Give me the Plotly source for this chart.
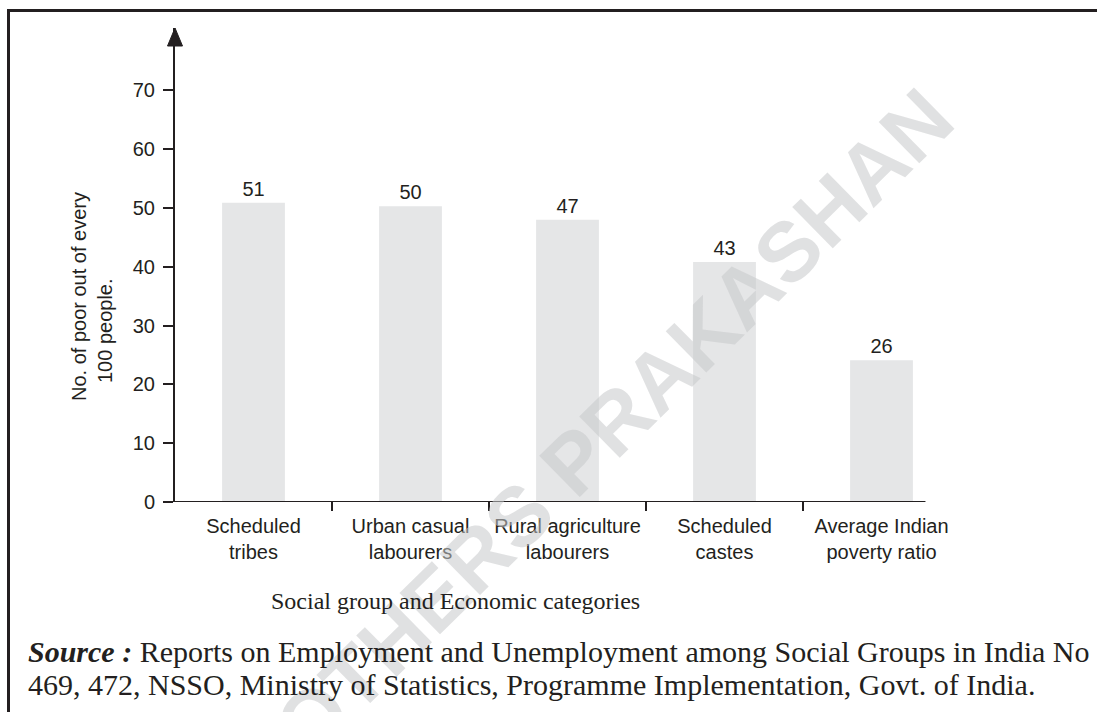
import plotly.graph_objects as go

# ---- data ----
categories = ["Scheduled<br>tribes", "Urban casual<br>labourers", "Rural agriculture<br>labourers",
              "Scheduled<br>castes", "Average Indian<br>poverty ratio"]
bar_heights = [50.9, 50.3, 48.0, 40.8, 24.1]          # heights as drawn
bar_labels = ["51", "50", "47", "43", "26"]           # printed values
y_ticks = [0, 10, 20, 30, 40, 50, 60, 70]

y_title_1 = "No. of poor out of every"
y_title_2 = "100 people."
x_title = "Social group and Economic categories"
source_line_1 = "<b><i>Source :</i></b> Reports on Employment and Unemployment among Social Groups in India No"
source_line_2 = "469, 472, NSSO, Ministry of Statistics, Programme Implementation, Govt. of India."
watermark = "BROTHERS PRAKASHAN"

# ---- layout constants (pixels) ----
W, H = 1097, 712
L, R, T, B = 175, 137, 28, 210
PW, PH = W - L - R, H - T - B
YMAX = 80.6
INK = "#231f20"
SANS = "Liberation Sans, Arial, sans-serif"
SERIF = "Liberation Serif, Times New Roman, serif"


def px_x(p):
    return (p - L) / PW


def px_y(p):
    return (H - B - p) / PH


fig = go.Figure()
fig.add_trace(go.Bar(
    x=categories, y=bar_heights, width=0.4,
    marker=dict(color="#e5e6e7", line=dict(width=0)),
    text=bar_labels, textposition="outside", cliponaxis=False,
    textfont=dict(family=SANS, size=20, color=INK),
    hoverinfo="skip",
))

shapes = []
# outer frame
shapes.append(dict(type="rect", xref="paper", yref="paper",
                   x0=px_x(8.5), x1=px_x(1120), y0=px_y(740), y1=px_y(10.5),
                   line=dict(color=INK, width=3), fillcolor="rgba(0,0,0,0)", layer="below"))
# x axis line
shapes.append(dict(type="line", xref="x", yref="y", x0=-0.5, x1=4.28, y0=0, y1=0,
                   line=dict(color=INK, width=2)))
# boundary ticks below x axis
for i in range(len(categories) - 1):
    shapes.append(dict(type="line", xref="x", yref="paper", x0=i + 0.5, x1=i + 0.5,
                       y0=0, y1=-9 / PH, line=dict(color=INK, width=2)))
# arrow head on y axis
tip = 1.0
base = px_y(T + 18)
hw = 7.5 / PW
shapes.append(dict(type="path", xref="paper", yref="paper",
                   path=f"M {-hw},{base} L 0,{tip} L {hw},{base} Z",
                   fillcolor=INK, line=dict(color=INK, width=1)))


def ann(text, x, y, **kw):
    d = dict(text=text, xref="paper", yref="paper", x=px_x(x), y=px_y(y),
             xanchor="center", yanchor="middle", showarrow=False)
    d.update(kw)
    return d


annotations = [
    ann("<b>" + watermark + "</b>", 570, 466, textangle=-44.5,
        font=dict(family=SANS, size=84, color="rgba(198,200,202,0.55)")),
    ann(y_title_1, 79, 297, textangle=-90, font=dict(family=SANS, size=20, color=INK)),
    ann(y_title_2, 105, 331, textangle=-90, font=dict(family=SANS, size=20, color=INK)),
    ann(x_title, 455, 601, font=dict(family=SERIF, size=24, color=INK)),
    ann(source_line_1, 26, 651, xanchor="left", align="left",
        font=dict(family=SERIF, size=30, color=INK)),
    ann(source_line_2, 26, 684, xanchor="left", align="left",
        font=dict(family=SERIF, size=30, color=INK)),
]

fig.update_layout(
    width=W, height=H,
    margin=dict(l=L, r=R, t=T, b=B, autoexpand=False),
    paper_bgcolor="white", plot_bgcolor="white",
    showlegend=False,
    bargap=0.6,
    shapes=shapes, annotations=annotations,
    xaxis=dict(range=[-0.5, 4.5], showline=False, showgrid=False, zeroline=False,
               ticks="", ticklabelstandoff=10,
               tickfont=dict(family=SANS, size=20, color=INK), fixedrange=True),
    yaxis=dict(range=[0, YMAX], tickvals=y_ticks, showline=True, linecolor=INK, linewidth=2,
               ticks="outside", ticklen=10, tickwidth=2, tickcolor=INK,
               showgrid=False, zeroline=False, ticklabelstandoff=4,
               tickfont=dict(family=SANS, size=20, color=INK), fixedrange=True),
)

fig.write_html("out.html")
